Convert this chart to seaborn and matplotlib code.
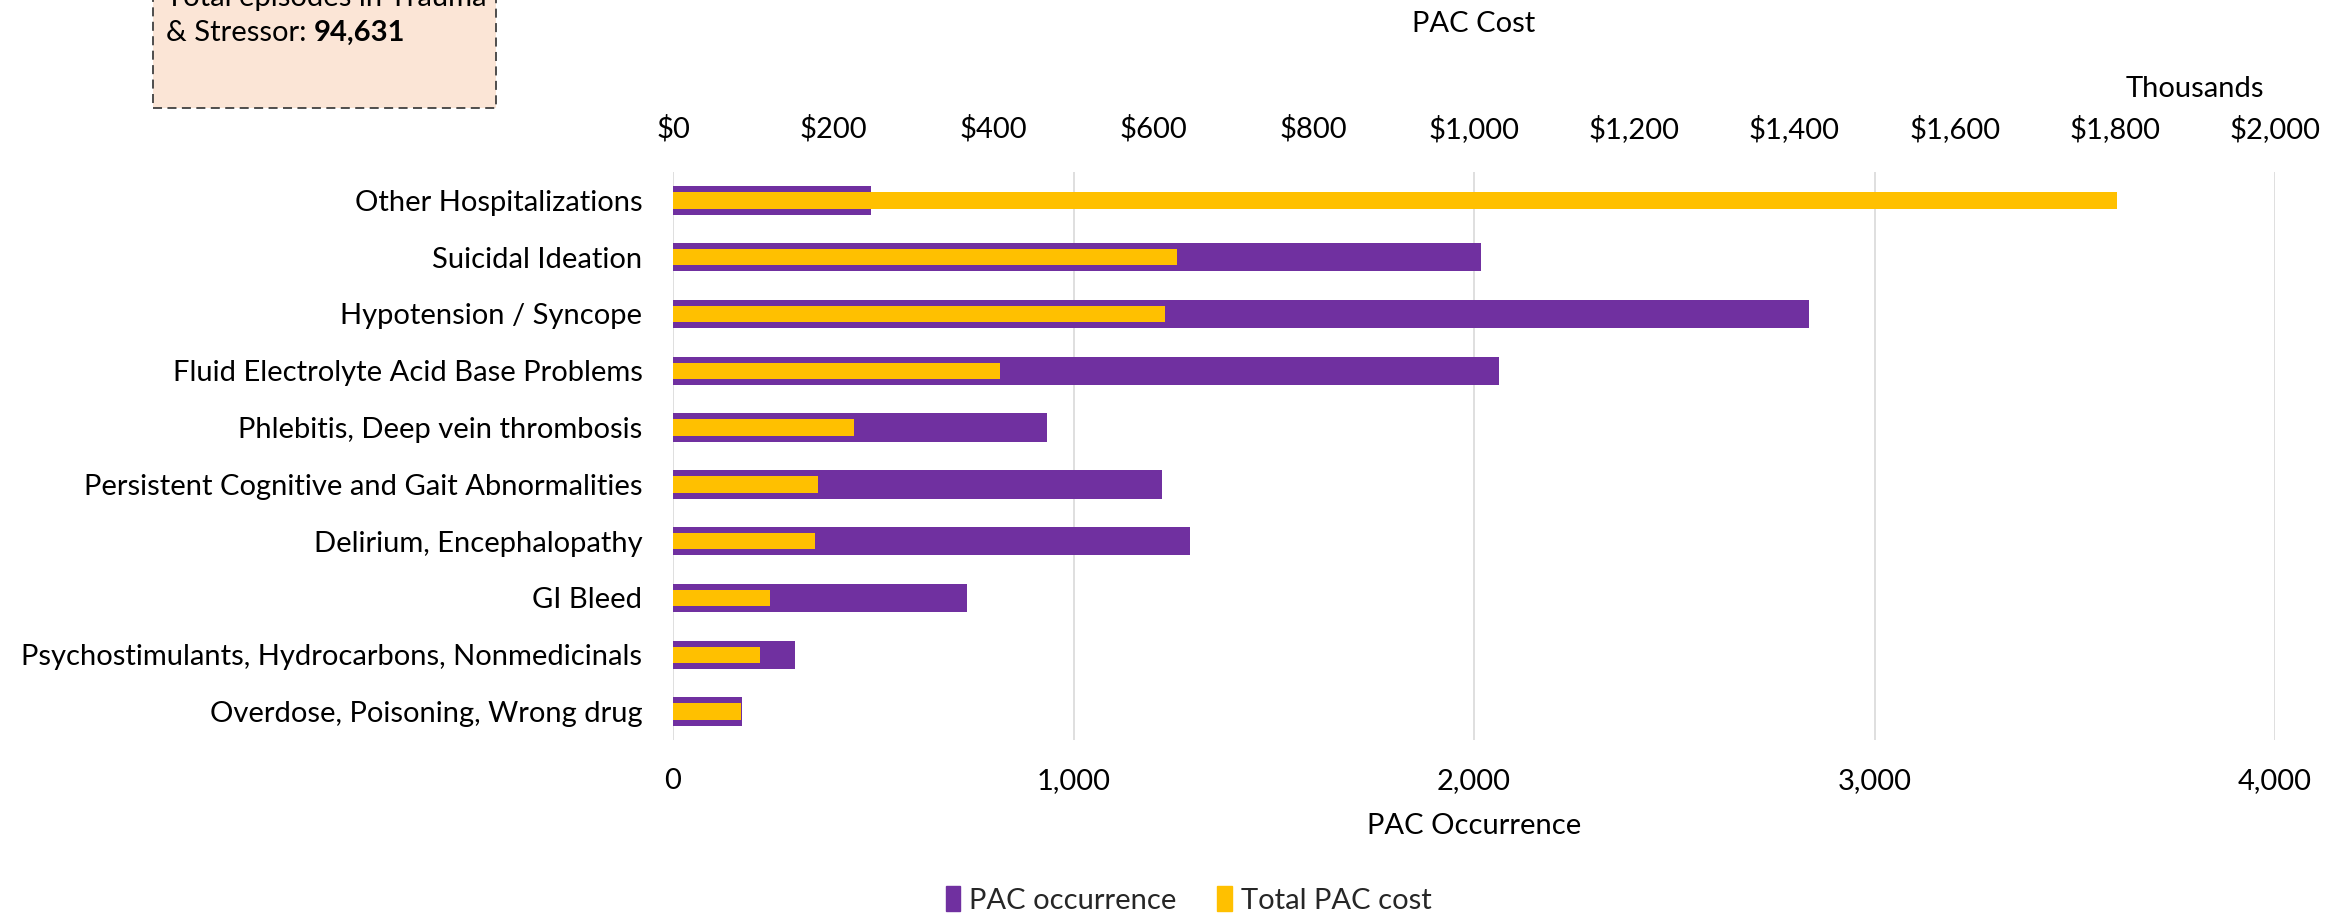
import matplotlib
matplotlib.use("Agg")
import matplotlib.pyplot as plt
import matplotlib.patches as mpatches
import seaborn as sns
import pandas as pd

# data
categories = [
    "Other Hospitalizations",
    "Suicidal Ideation",
    "Hypotension / Syncope",
    "Fluid Electrolyte Acid Base Problems",
    "Phlebitis, Deep vein thrombosis",
    "Persistent Cognitive and Gait Abnormalities",
    "Delirium, Encephalopathy",
    "GI Bleed",
    "Psychostimulants, Hydrocarbons, Nonmedicinals",
    "Overdose, Poisoning, Wrong drug",
]
occurrence = [494, 2018, 2836, 2062, 935, 1220, 1292, 734, 304, 173]
cost_k = [1803, 629, 614, 408, 226, 181, 177, 121, 109, 85]  # thousands of $
occ_ticks = [0, 1000, 2000, 3000, 4000]
cost_ticks = list(range(0, 2001, 200))
total_episodes = "94,631"

PURPLE = "#7030A0"
YELLOW = "#FFC000"
FONT = "Lato"
FS = 21

sns.set_theme(style="white")
plt.rcParams['font.family'] = [FONT, 'DejaVu Sans']

df = pd.DataFrame({"cat": categories, "occ": occurrence, "cost": cost_k})

fig = plt.figure(figsize=(23.49, 9.18), dpi=100)
ax = fig.add_axes([673 / 2349, 1 - 740 / 918, (2275 - 673) / 2349, (740 - 172) / 918])

sns.barplot(data=df, y="cat", x="occ", orient="h", color=PURPLE, width=0.5,
            saturation=1, linewidth=0, ax=ax)
ax.set_xlim(0, 4000)
ax.set_xticks(occ_ticks)
ax.set_xticklabels(["{:,}".format(t) for t in occ_ticks])
ax.set_ylim(9.5, -0.5)
ax.set_axisbelow(True)
ax.xaxis.grid(True, color="#D9D9D9", linewidth=1.2)
ax.yaxis.grid(False)
ax.set_ylabel("")
ax.set_xlabel("PAC Occurrence", fontsize=FS, labelpad=13.5, color="black")
ax.tick_params(axis="x", length=0, pad=20.5, labelsize=FS, labelcolor="black")
ax.tick_params(axis="y", length=0, pad=22, labelsize=FS, labelcolor="black")
for s in ax.spines.values():
    s.set_visible(False)

ax2 = ax.twiny()
sns.barplot(data=df, y="cat", x="cost", orient="h", color=YELLOW, width=0.29,
            saturation=1, linewidth=0, ax=ax2)
ax2.set_xlim(0, 2000)
ax2.set_ylim(9.5, -0.5)
ax2.set_xticks(cost_ticks)
ax2.set_xticklabels(["${:,}".format(t) for t in cost_ticks])
ax2.grid(False)
ax2.set_ylabel("")
ax2.set_xlabel("PAC Cost", fontsize=FS, labelpad=60, color="black")
ax2.tick_params(axis="x", length=0, pad=21, labelsize=FS, labelcolor="black")
ax2.tick_params(axis="y", length=0)
for s in ax2.spines.values():
    s.set_visible(False)
ax2.text(0.993, 1.146, "Thousands", transform=ax2.transAxes, ha="right",
         va="center", fontsize=FS, color="black")

# legend at the bottom
handles = [mpatches.Patch(color=PURPLE, label="PAC occurrence"),
           mpatches.Patch(color=YELLOW, label="Total PAC cost")]
fig.legend(handles=handles, loc="center", bbox_to_anchor=(0.506, 1 - 900 / 918),
           ncol=2, frameon=False, fontsize=FS, handlelength=0.5, handleheight=0.9,
           handletextpad=0.3, columnspacing=1.4)

# note box at the top left, partly outside the figure
box = mpatches.Rectangle((153 / 2349, 1 - 108 / 918), (496 - 153) / 2349, 0.2,
                         transform=fig.transFigure, facecolor="#FBE5D6",
                         edgecolor="#404040", linestyle=(0, (5, 3)), linewidth=1.3)
fig.patches.append(box)
fig.text(166 / 2349, 1 - 6 / 918, "Total episodes in Trauma", fontsize=FS,
         ha="left", va="baseline", color="black")
t1 = fig.text(166 / 2349, 1 - 41 / 918, "& Stressor: ", fontsize=FS,
              ha="left", va="baseline", color="black")
fig.canvas.draw()
bb = t1.get_window_extent(renderer=fig.canvas.get_renderer())
fig.text(bb.x1 / fig.bbox.width, 1 - 41 / 918, total_episodes, fontsize=FS,
         fontweight="bold", ha="left", va="baseline", color="black")

fig.savefig("out.png", dpi=100)
